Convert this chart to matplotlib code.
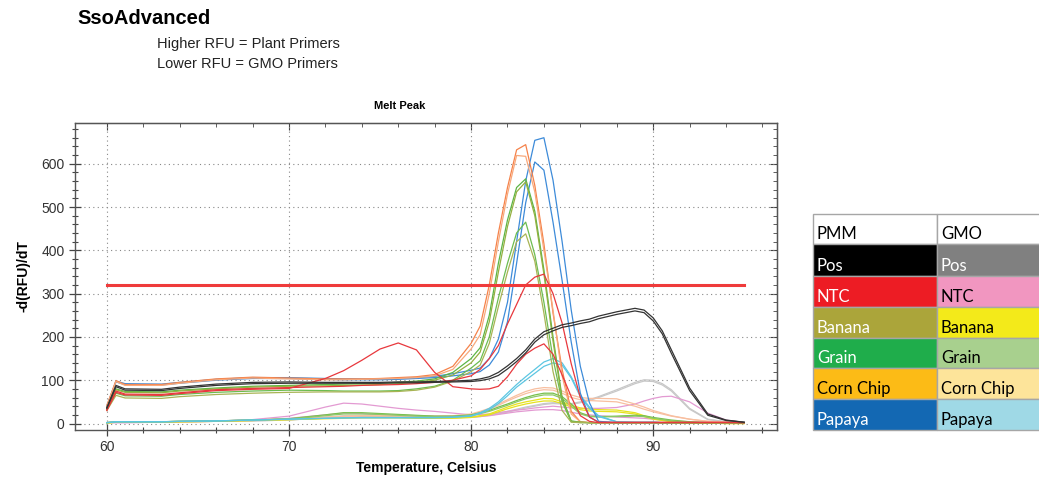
import matplotlib
matplotlib.use("Agg")
import matplotlib.pyplot as plt
from matplotlib.patches import Rectangle
from matplotlib.ticker import MultipleLocator

plt.rcParams['font.family'] = ['Liberation Sans', 'DejaVu Sans']

# temperature grid (Celsius) shared by every melt curve
temps = [60, 60.5, 61, 63, 64, 66, 68, 70, 72, 73, 74, 75, 76, 77, 78, 79, 80, 80.5, 81, 81.5,
         82, 82.5, 83, 83.5, 84, 84.5, 85, 85.5, 86, 86.5, 87, 88, 89, 89.5, 90, 90.5, 91, 92, 93, 94, 95]

# plant primers (PMM), -d(RFU)/dT
pmm_papaya_1 = [40, 98, 92, 91, 95, 102, 106, 106, 104, 103, 103, 103, 104, 106, 109, 115, 123, 128, 150, 195,
                280, 420, 560, 654, 660, 562, 420, 262, 132, 48, 5, 2, 2, 2, 2, 2, 2, 1, 1, 1, 1]
pmm_papaya_2 = [38, 96, 90, 89, 93, 100, 104, 104, 102, 101, 101, 101, 102, 104, 106, 110, 115, 120, 135, 165,
                235, 370, 510, 604, 585, 465, 330, 188, 70, 15, 3, 2, 2, 2, 2, 2, 2, 1, 1, 1, 1]
pmm_corn_1 = [42, 99, 90, 90, 95, 103, 107, 105, 103, 103, 103, 104, 106, 108, 113, 132, 185, 225, 320, 440,
              545, 632, 644, 550, 415, 255, 125, 28, 4, 2, 2, 2, 2, 2, 2, 2, 2, 1, 1, 1, 1]
pmm_corn_2 = [40, 97, 88, 88, 93, 101, 105, 103, 101, 101, 102, 103, 104, 106, 110, 125, 172, 205, 300, 420,
              530, 619, 617, 535, 400, 262, 110, 22, 4, 2, 2, 2, 2, 2, 2, 2, 2, 1, 1, 1, 1]
pmm_grain_1 = [34, 80, 74, 73, 77, 82, 86, 88, 90, 91, 92, 93, 95, 98, 103, 118, 150, 175, 250, 370,
               470, 545, 565, 490, 355, 200, 60, 6, 3, 2, 2, 2, 2, 2, 2, 2, 2, 1, 1, 1, 1]
pmm_banana_1 = [33, 78, 72, 71, 75, 80, 84, 86, 87, 88, 89, 90, 92, 95, 100, 112, 140, 165, 235, 350,
                455, 535, 558, 480, 345, 190, 55, 5, 3, 2, 2, 2, 2, 2, 2, 2, 2, 1, 1, 1, 1]
pmm_grain_2 = [32, 70, 64, 63, 67, 72, 75, 77, 76, 75, 75, 75, 76, 80, 86, 100, 128, 145, 200, 290,
               370, 440, 465, 390, 280, 150, 50, 4, 2, 2, 2, 2, 2, 2, 2, 2, 2, 1, 1, 1, 1]
pmm_banana_2 = [30, 65, 59, 58, 62, 67, 70, 72, 73, 73, 73, 73, 74, 77, 84, 98, 120, 135, 185, 270,
                350, 420, 438, 375, 255, 120, 30, 3, 2, 2, 2, 2, 2, 2, 2, 2, 2, 1, 1, 1, 1]
pmm_ntc_1 = [32, 75, 68, 67, 71, 78, 81, 83, 85, 86, 88, 89, 90, 92, 95, 100, 110, 125, 150, 180,
             230, 275, 320, 338, 345, 300, 232, 138, 60, 15, 3, 3, 3, 3, 3, 3, 3, 3, 3, 3, 2]
pmm_ntc_2 = [30, 72, 66, 65, 69, 76, 79, 81, 104, 122, 146, 172, 186, 170, 118, 85, 80, 79, 80, 86,
             108, 137, 160, 174, 184, 160, 112, 62, 18, 5, 2, 2, 2, 2, 2, 2, 2, 2, 2, 2, 2]
pmm_pos_1 = [37, 88, 80, 79, 84, 91, 95, 96, 95, 95, 95, 95, 96, 96, 97, 98, 100, 103, 108, 118,
             133, 150, 170, 195, 212, 220, 228, 232, 237, 241, 248, 258, 266, 262, 244, 214, 170, 82, 22, 8, 3]
pmm_pos_2 = [35, 85, 77, 76, 81, 88, 92, 93, 93, 93, 93, 93, 94, 94, 95, 96, 97, 99, 103, 111,
             126, 143, 163, 188, 205, 214, 222, 226, 231, 235, 242, 252, 260, 256, 237, 207, 162, 76, 19, 7, 3]

# GMO primers
gmo_papaya_1 = [2, 4, 4, 4, 5, 6, 8, 10, 12, 13, 14, 14, 14, 14, 14, 15, 18, 25, 35, 50,
                70, 90, 108, 125, 142, 150, 140, 108, 65, 38, 18, 4, 3, 3, 3, 2, 2, 2, 2, 1, 1]
gmo_papaya_2 = [2, 4, 4, 4, 5, 6, 8, 10, 12, 13, 13, 13, 13, 13, 13, 14, 17, 23, 32, 46,
                64, 84, 100, 116, 132, 140, 135, 105, 62, 35, 16, 4, 3, 3, 3, 2, 2, 2, 2, 1, 1]
gmo_corn_1 = [2, 4, 4, 4, 5, 6, 8, 11, 15, 17, 18, 18, 18, 17, 17, 18, 22, 28, 35, 45,
              55, 65, 74, 80, 83, 82, 75, 66, 60, 58, 58, 57, 45, 38, 30, 24, 18, 10, 5, 3, 2]
gmo_corn_2 = [2, 4, 4, 4, 5, 6, 8, 10, 14, 16, 17, 17, 17, 16, 16, 17, 20, 26, 33, 42,
              52, 61, 69, 75, 78, 77, 70, 60, 55, 53, 52, 50, 40, 33, 27, 22, 17, 10, 5, 3, 2]
gmo_grain_1 = [2, 4, 4, 4, 5, 6, 8, 11, 20, 25, 25, 23, 21, 19, 17, 17, 20, 25, 30, 38,
               45, 53, 60, 66, 70, 70, 62, 45, 25, 17, 16, 17, 19, 18, 14, 11, 8, 4, 2, 1, 1]
gmo_grain_2 = [2, 4, 4, 4, 5, 6, 8, 10, 18, 22, 22, 21, 19, 17, 16, 16, 18, 23, 28, 35,
               42, 50, 57, 62, 66, 66, 58, 40, 22, 16, 15, 16, 17, 16, 12, 9, 6, 3, 2, 1, 1]
gmo_banana_1 = [1, 3, 3, 3, 4, 5, 7, 9, 12, 14, 15, 15, 15, 14, 13, 13, 15, 18, 22, 30,
                38, 45, 50, 54, 58, 57, 50, 42, 36, 33, 32, 31, 25, 18, 12, 8, 5, 2, 1, 0, 0]
gmo_banana_2 = [1, 3, 3, 3, 4, 5, 7, 9, 11, 12, 13, 13, 13, 12, 12, 12, 14, 17, 20, 27,
                34, 40, 45, 49, 52, 52, 46, 38, 32, 29, 28, 27, 22, 16, 10, 7, 4, 2, 1, 0, 0]
gmo_pos_1 = [2, 3, 3, 3, 4, 5, 6, 8, 14, 18, 18, 17, 16, 15, 14, 14, 15, 17, 20, 24,
             28, 33, 38, 42, 46, 48, 47, 46, 50, 55, 62, 78, 95, 101, 100, 92, 78, 35, 10, 4, 2]
gmo_pos_2 = [2, 3, 3, 3, 4, 5, 6, 8, 13, 16, 16, 16, 15, 14, 13, 13, 14, 16, 19, 22,
             26, 31, 36, 40, 44, 46, 45, 44, 48, 53, 60, 75, 92, 98, 97, 89, 75, 33, 9, 4, 2]
gmo_ntc_1 = [2, 2, 2, 3, 4, 5, 9, 17, 38, 47, 45, 40, 35, 31, 28, 24, 20, 21, 22, 25,
             28, 31, 33, 36, 38, 40, 38, 36, 35, 35, 35, 37, 45, 52, 58, 62, 63, 50, 24, 8, 2]
gmo_ntc_2 = [2, 2, 2, 3, 4, 5, 7, 12, 20, 24, 23, 21, 20, 18, 17, 16, 15, 16, 18, 21,
             24, 27, 29, 31, 32, 32, 30, 26, 22, 20, 18, 15, 13, 12, 10, 8, 6, 4, 2, 1, 1]

threshold = 320
threshold_range = [60, 95]

# legend table content
table_rows = ['Pos', 'NTC', 'Banana', 'Grain', 'Corn Chip', 'Papaya']
table_header = ['PMM', 'GMO']

# ---- styles ----
line_styles = [
    (gmo_pos_1, '#c8c8c8'), (gmo_pos_2, '#c8c8c8'),
    (gmo_ntc_1, '#e39ad2'), (gmo_ntc_2, '#e39ad2'),
    (gmo_banana_1, '#e6e21e'), (gmo_banana_2, '#e6e21e'),
    (gmo_corn_1, '#f8bfa0'), (gmo_corn_2, '#f8bfa0'),
    (gmo_grain_1, '#78c04c'), (gmo_grain_2, '#8cc868'),
    (gmo_papaya_1, '#5cc6e2'), (gmo_papaya_2, '#5cc6e2'),
    (pmm_papaya_1, '#3d8bd9'), (pmm_papaya_2, '#3d8bd9'),
    (pmm_corn_1, '#f5824a'), (pmm_corn_2, '#f8a87a'),
    (pmm_grain_1, '#5cb545'), (pmm_banana_1, '#94b040'),
    (pmm_grain_2, '#6cbc50'), (pmm_banana_2, '#a8b454'),
    (pmm_ntc_1, '#e8383d'), (pmm_ntc_2, '#e8383d'),
    (pmm_pos_1, '#333333'), (pmm_pos_2, '#333333'),
]
pmm_colors = ['#000000', '#ed1c24', '#aba53a', '#1fad4b', '#fcbb16', '#1368b3']
pmm_text = ['white', 'white', 'white', 'white', 'black', 'white']
gmo_colors = ['#808080', '#f196c0', '#f3ea1a', '#a8d08e', '#fde49a', '#9fd9e6']
gmo_text = ['white', 'black', 'black', 'black', 'black', 'black']

W, H = 1039, 480
fig = plt.figure(figsize=(W / 100, H / 100), dpi=100)
ax = fig.add_axes([75 / W, 50 / H, 702 / W, 307 / H])

for vals, col in line_styles:
    ax.plot(temps, vals, color=col, lw=0.9)
ax.plot(threshold_range, [threshold, threshold], color='#ef3b3b', lw=2.2, zorder=5)

ax.set_xlim(58.25, 96.8)
ax.xaxis.set_major_locator(MultipleLocator(10))
ax.xaxis.set_minor_locator(MultipleLocator(2))
ax.yaxis.set_minor_locator(MultipleLocator(20))
ax.set_yticks(range(0, 700, 100))
ax.set_ylim(-15, 694)
ax.grid(True, which='major', color='#888888', lw=0.8, linestyle=(0, (1, 3)))
ax.tick_params(which='both', direction='inout', colors='#444444', labelcolor='#333333', labelsize=10)
ax.tick_params(which='major', length=8, width=0.9)
ax.tick_params(which='minor', length=5, width=0.8)
for s in ax.spines.values():
    s.set_color('#555555')
    s.set_linewidth(1.0)

# ticks pointing inward on top and right
top = ax.secondary_xaxis('top')
top.xaxis.set_major_locator(MultipleLocator(10))
top.xaxis.set_minor_locator(MultipleLocator(2))
top.tick_params(which='both', direction='in', labeltop=False, colors='#444444')
top.tick_params(which='major', length=5)
top.tick_params(which='minor', length=3)
right = ax.secondary_yaxis('right')
right.yaxis.set_major_locator(MultipleLocator(100))
right.yaxis.set_minor_locator(MultipleLocator(20))
right.tick_params(which='both', direction='in', labelright=False, colors='#444444')
right.tick_params(which='major', length=5)
right.tick_params(which='minor', length=3)

ax.set_xlabel('Temperature, Celsius', fontsize=10, fontweight='bold', labelpad=5)
ax.set_ylabel('-d(RFU)/dT', fontsize=10, fontweight='bold', labelpad=8)

# overlay in pixel coordinates for titles and the colour key
ov = fig.add_axes([0, 0, 1, 1])
ov.set_xlim(0, W)
ov.set_ylim(H, 0)
ov.axis('off')

ov.text(77, 18, 'SsoAdvanced', fontsize=14.5, fontweight='bold', va='center', ha='left')
ov.text(157, 44, 'Higher RFU = Plant Primers', fontsize=10.5, va='center', ha='left', color='#222222')
ov.text(157, 64, 'Lower RFU = GMO Primers', fontsize=10.5, va='center', ha='left', color='#222222')
ov.text(400, 106, 'Melt Peak', fontsize=8, fontweight='bold', va='center', ha='center')

row_edges = [214, 244, 276, 307, 338, 368, 399, 430]
col_edges = [813, 937, 1061]
tfont = ['Lato', 'DejaVu Sans']
for j, name in enumerate(table_header):
    ov.add_patch(Rectangle((col_edges[j], row_edges[0]), col_edges[j + 1] - col_edges[j],
                           row_edges[1] - row_edges[0], facecolor='white', edgecolor='#a6a6a6', lw=1))
    ov.text(col_edges[j] + 4, row_edges[1] - 5, name, fontsize=12, family=tfont, va='baseline')
for i, name in enumerate(table_rows):
    y0, y1 = row_edges[i + 1], row_edges[i + 2]
    for j, (cols, tcols) in enumerate([(pmm_colors, pmm_text), (gmo_colors, gmo_text)]):
        ov.add_patch(Rectangle((col_edges[j], y0), col_edges[j + 1] - col_edges[j], y1 - y0,
                               facecolor=cols[i], edgecolor='#a6a6a6', lw=1))
        ov.text(col_edges[j] + 4, y1 - 5, name, fontsize=12, family=tfont, va='baseline', color=tcols[i])

fig.savefig('out.png', dpi=100)
